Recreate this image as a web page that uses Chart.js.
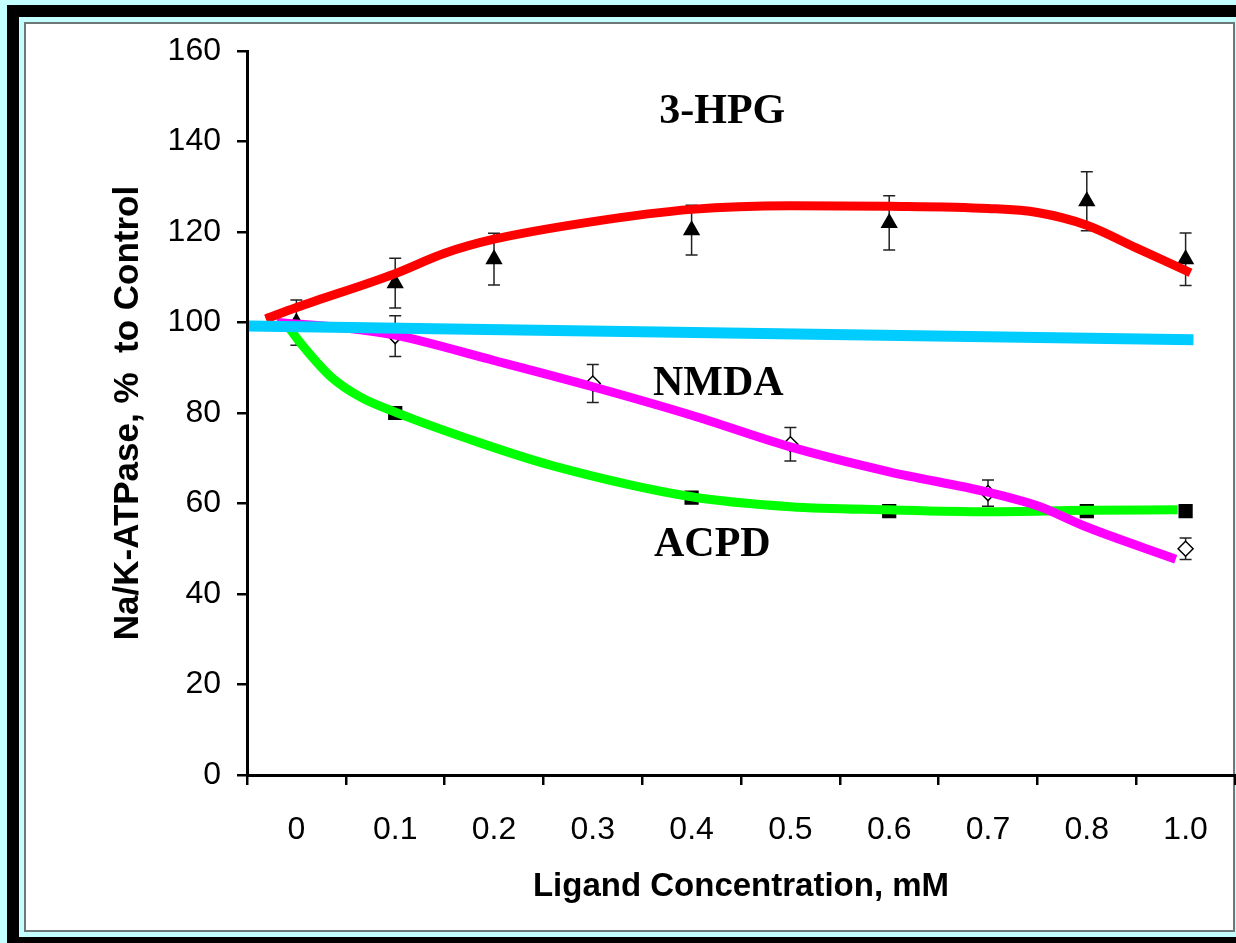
<!DOCTYPE html>
<html>
<head>
<meta charset="utf-8">
<script src="https://cdn.jsdelivr.net/npm/chart.js@4/dist/chart.umd.min.js"></script>
<style>
  body { margin: 0; width: 1236px; height: 943px; overflow: hidden; background: #c4ffff; position: relative; }
  #outer { position: absolute; left: 7px; top: 5px; width: 1300px; height: 1000px; background: #000; }
  #inner { position: absolute; left: 19px; top: 17px; width: 1300px; height: 920px; background: #c4ffff; }
  #panel { position: absolute; left: 24px; top: 22px; width: 1211px; height: 910px; background: #fff;
           border: 2px solid #6e7878; box-sizing: border-box; }
  #c { position: absolute; left: 0; top: 0; }
</style>
</head>
<body>
<div id="outer"></div>
<div id="inner"></div>
<div id="panel"></div>
<canvas id="c" width="1236" height="943"></canvas>
<script>
// x categories (ligand concentration, mM)
const concLabels = ['0', '0.1', '0.2', '0.3', '0.4', '0.5', '0.6', '0.7', '0.8', '1.0'];

// measured points: category index, mean (% of control), SEM
const hpgIdx = [0, 1, 2, 4, 6, 8, 9];
const hpgMean = [100, 108.7, 114, 120.4, 122, 126.8, 114];
const hpgErr = [5, 5.5, 5.7, 5.5, 6, 6.5, 5.8];

const nmdaIdx = [1, 3, 5, 7, 9];
const nmdaMean = [97, 86.5, 73.1, 62.3, 50];
const nmdaErr = [4.5, 4.2, 3.7, 2.9, 2.4];

const acpdIdx = [1, 4, 6, 8, 9];
const acpdMean = [80, 61.3, 58.3, 58.3, 58.3];

// fitted curves (x in category index units)
const hpgFitX = [-0.31, 0, 1, 1.5, 2, 3, 4, 5, 6, 7, 7.5, 8, 8.5, 9.05];
const hpgFitY = [100.8, 103.3, 110.8, 115.3, 118.4, 122.3, 125, 125.8, 125.7, 125.2, 124.3, 121.5, 116.5, 111];

const nmdaFitX = [-0.2, 0.5, 1, 2, 3, 4, 5, 6, 7, 7.5, 8, 8.9];
const nmdaFitY = [100, 98.8, 97.2, 91.6, 85.8, 79.5, 72.5, 67, 62.5, 59.5, 54.8, 47.7];

const acpdFitX = [-0.08, 0.04, 0.35, 0.65, 1, 1.86, 2.57, 4, 5, 6, 7, 8, 8.92];
const acpdFitY = [99, 95.5, 88, 83.5, 80.2, 73.4, 68.5, 61.5, 59.3, 58.6, 58.2, 58.5, 58.6];

const ctrlX = [-0.48, 9.08];
const ctrlY = [99.2, 96.2];

const pts = (xs, ys) => xs.map((x, i) => ({ x: x, y: ys[i] }));

// curve labels, placed in data units
const curveNames = [
  { text: '3-HPG', x: 4.31, y: 144.1 },
  { text: 'NMDA', x: 4.27, y: 84.0 },
  { text: 'ACPD', x: 4.21, y: 48.4 }
];

const errorBars = {
  id: 'errorBars',
  beforeDatasetsDraw(chart) {
    const { ctx, scales } = chart;
    const xs = scales.xv, ys = scales.y;
    const sets = [[hpgIdx, hpgMean, hpgErr], [nmdaIdx, nmdaMean, nmdaErr]];
    ctx.save();
    ctx.strokeStyle = '#222';
    ctx.lineWidth = 1.5;
    sets.forEach(([idx, mean, err]) => {
      idx.forEach((k, i) => {
        const px = xs.getPixelForValue(k);
        const top = ys.getPixelForValue(mean[i] + err[i]);
        const bot = ys.getPixelForValue(mean[i] - err[i]);
        ctx.beginPath();
        ctx.moveTo(px, top); ctx.lineTo(px, bot);
        ctx.moveTo(px - 6, top); ctx.lineTo(px + 6, top);
        ctx.moveTo(px - 6, bot); ctx.lineTo(px + 6, bot);
        ctx.stroke();
      });
    });
    ctx.restore();
  }
};

const nameLabels = {
  id: 'nameLabels',
  afterDatasetsDraw(chart) {
    const { ctx, scales } = chart;
    ctx.save();
    ctx.font = 'bold 42px "Liberation Serif", "Times New Roman", serif';
    ctx.fillStyle = '#000';
    ctx.textAlign = 'center';
    ctx.textBaseline = 'alphabetic';
    curveNames.forEach(n => {
      ctx.fillText(n.text, scales.xv.getPixelForValue(n.x), scales.y.getPixelForValue(n.y));
    });
    ctx.restore();
  }
};

const lineSet = (data, color, width, order) => ({
  type: 'line', data: data, borderColor: color, borderWidth: width,
  pointRadius: 0, cubicInterpolationMode: 'monotone', fill: false, order: order
});

const markSet = (data, style, radius, fillColor, order) => ({
  type: 'scatter', data: data, showLine: false, pointStyle: style, pointRadius: radius,
  backgroundColor: fillColor, borderColor: '#000', borderWidth: 1.5, order: order
});

new Chart(document.getElementById('c'), {
  data: {
    labels: concLabels,
    datasets: [
      lineSet(pts(ctrlX, ctrlY), '#00ccff', 11, 0),
      lineSet(pts(hpgFitX, hpgFitY), '#ff0000', 9, 1),
      lineSet(pts(nmdaFitX, nmdaFitY), '#ff00ff', 9, 2),
      lineSet(pts(acpdFitX, acpdFitY), '#00ff00', 9, 3),
      markSet(pts(hpgIdx, hpgMean), 'triangle', 8.5, '#000', 4),
      markSet(pts(nmdaIdx, nmdaMean), 'rectRot', 7.5, '#fff', 5),
      markSet(pts(acpdIdx, acpdMean), 'rect', 9, '#000', 6)
    ].map(d => Object.assign(d, { xAxisID: 'xv' }))
  },
  options: {
    responsive: false,
    animation: false,
    layout: { autoPadding: false, padding: { left: 0, top: 51, right: 1, bottom: 0 } },
    plugins: { legend: { display: false }, tooltip: { enabled: false } },
    scales: {
      x: {
        type: 'category',
        offset: true,
        grid: { offset: true, drawOnChartArea: false, drawTicks: true, tickLength: 10, color: '#000', lineWidth: 2.5 },
        border: { display: true, color: '#000', width: 3 },
        ticks: { color: '#000', padding: 26, font: { family: '"Liberation Sans", Arial, sans-serif', size: 32 } },
        title: {
          display: true, text: 'Ligand Concentration, mM', color: '#000',
          font: { family: '"Liberation Sans", Arial, sans-serif', size: 33, weight: 'bold' },
          padding: { top: 0, bottom: 36 }
        },
        afterFit: s => { s.height = 168; s.paddingLeft = 0; s.paddingRight = 0; }
      },
      xv: { type: 'linear', display: false, min: -0.5, max: 9.5 },
      y: {
        min: 0, max: 160,
        grid: { drawOnChartArea: false, drawTicks: true, tickLength: 10, color: '#000', lineWidth: 2.5 },
        border: { display: true, color: '#000', width: 3 },
        ticks: { stepSize: 20, color: '#000', padding: 16, font: { family: '"Liberation Sans", Arial, sans-serif', size: 32 } },
        title: {
          display: true, text: 'Na/K-ATPase, %  to Control', color: '#000',
          font: { family: '"Liberation Sans", Arial, sans-serif', size: 35, weight: 'bold' },
          padding: { top: 107, bottom: 0 }
        },
        afterFit: s => { s.width = 247; }
      }
    }
  },
  plugins: [errorBars, nameLabels]
});
</script>
</body>
</html>
